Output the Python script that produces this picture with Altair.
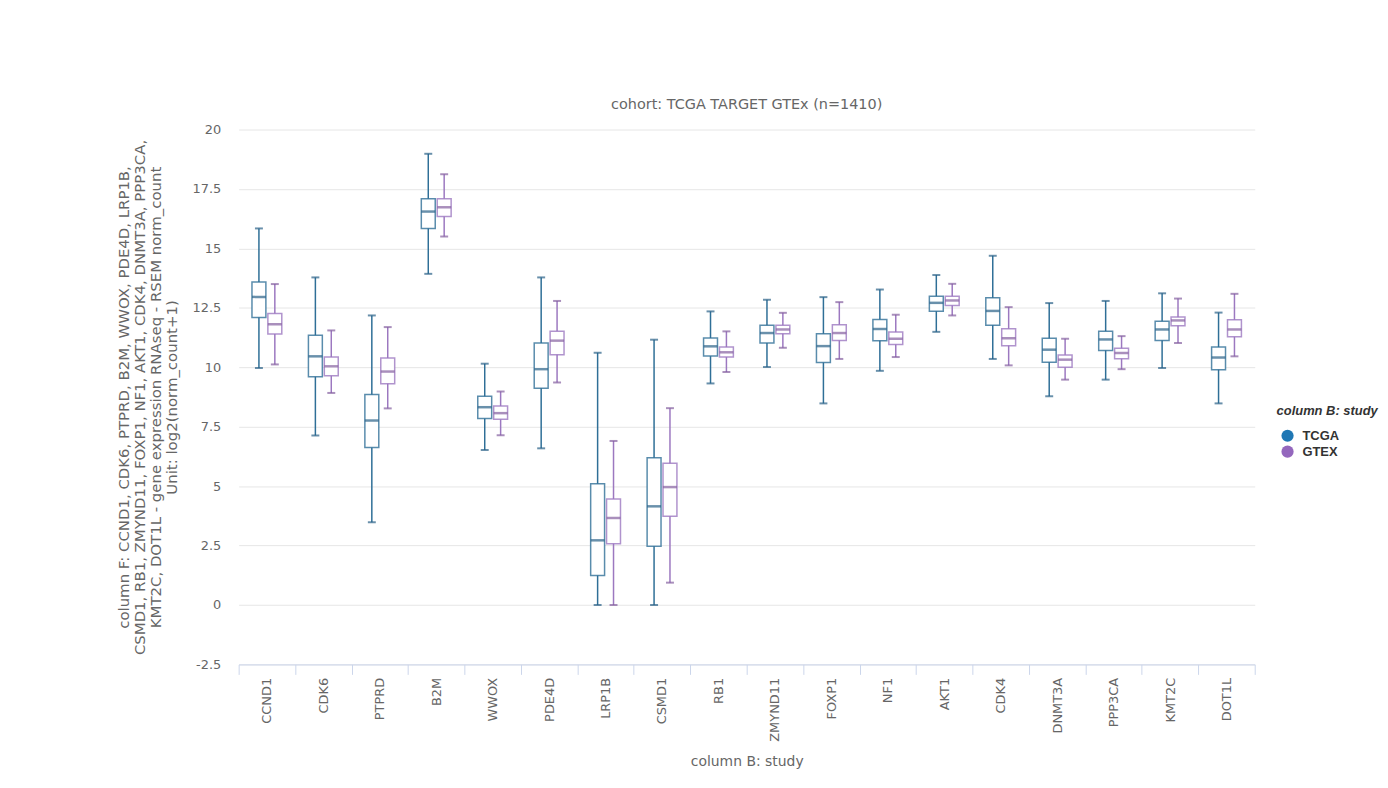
import altair as alt
import pandas as pd

genes = ["CCND1", "CDK6", "PTPRD", "B2M", "WWOX", "PDE4D", "LRP1B", "CSMD1", "RB1",
         "ZMYND11", "FOXP1", "NF1", "AKT1", "CDK4", "DNMT3A", "PPP3CA", "KMT2C", "DOT1L"]
studies = ["TCGA", "GTEX"]

tcga_lower = [9.97, 7.13, 3.48, 13.93, 6.52, 6.59, 0.0, 0.0, 9.32, 10.01, 8.48, 9.85, 11.49, 10.35, 8.78, 9.48, 9.97, 8.48]
tcga_q1 = [12.09, 9.6, 6.62, 15.84, 7.84, 9.12, 1.24, 2.47, 10.47, 11.02, 10.2, 11.12, 12.36, 11.77, 10.21, 10.71, 11.13, 9.9]
tcga_median = [12.96, 10.46, 7.76, 16.55, 8.32, 9.92, 2.72, 4.15, 10.88, 11.44, 10.89, 11.61, 12.71, 12.37, 10.74, 11.17, 11.59, 10.41]
tcga_q3 = [13.59, 11.35, 8.85, 17.09, 8.78, 11.02, 5.1, 6.19, 11.23, 11.77, 11.41, 12.01, 12.99, 12.92, 11.22, 11.52, 11.94, 10.85]
tcga_upper = [15.84, 13.78, 12.18, 18.98, 10.15, 13.78, 10.61, 11.16, 12.35, 12.84, 12.95, 13.27, 13.88, 14.69, 12.7, 12.79, 13.11, 12.3]

gtex_lower = [10.12, 8.92, 8.27, 15.5, 7.14, 9.36, 0.0, 0.94, 9.8, 10.82, 10.35, 10.43, 12.18, 10.08, 9.48, 9.92, 11.02, 10.46]
gtex_q1 = [11.4, 9.64, 9.31, 16.34, 7.81, 10.53, 2.58, 3.73, 10.43, 11.41, 11.13, 10.96, 12.6, 10.91, 10.0, 10.36, 11.75, 11.28]
gtex_median = [11.81, 10.04, 9.82, 16.73, 8.07, 11.12, 3.66, 4.96, 10.63, 11.59, 11.44, 11.2, 12.81, 11.22, 10.32, 10.6, 11.97, 11.59]
gtex_q3 = [12.26, 10.43, 10.39, 17.09, 8.37, 11.52, 4.46, 5.96, 10.85, 11.77, 11.79, 11.48, 12.99, 11.62, 10.52, 10.8, 12.11, 12.0]
gtex_upper = [13.5, 11.55, 11.69, 18.12, 8.98, 12.79, 6.9, 8.28, 11.51, 12.29, 12.74, 12.21, 13.51, 12.53, 11.2, 11.31, 12.89, 13.09]

y_ticks = [-2.5, 0, 2.5, 5, 7.5, 10, 12.5, 15, 17.5, 20]

rows = []
for i, g in enumerate(genes):
    rows.append(dict(gene=g, study="TCGA", series="TCGA", lower=tcga_lower[i], q1=tcga_q1[i],
                     median=tcga_median[i], q3=tcga_q3[i], upper=tcga_upper[i]))
    rows.append(dict(gene=g, study="GTEX", series="GTEX", lower=gtex_lower[i], q1=gtex_q1[i],
                     median=gtex_median[i], q3=gtex_q3[i], upper=gtex_upper[i]))
df = pd.DataFrame(rows)

FONT = "DejaVu Sans"
LFONT = "Liberation Sans"
GRAY = "#666666"

x_axis = alt.Axis(
    title="column B: study", labelAngle=-90, tickBand="extent", tickSize=10,
    tickColor="#ccd6eb", domainColor="#ccd6eb", labelColor=GRAY, labelFontSize=13,
    labelFont=FONT, labelPadding=3, titleColor=GRAY, titleFontSize=14,
    titleFont=FONT, titleFontWeight="normal", titlePadding=13, grid=False,
)
y_title = [
    "column F: CCND1, CDK6, PTPRD, B2M, WWOX, PDE4D, LRP1B,",
    "CSMD1, RB1, ZMYND11, FOXP1, NF1, AKT1, CDK4, DNMT3A, PPP3CA,",
    "KMT2C, DOT1L - gene expression RNAseq - RSEM norm_count",
    "Unit: log2(norm_count+1)",
]
y_axis = alt.Axis(
    values=y_ticks, grid=True, gridColor="#e6e6e6", domain=False, ticks=False,
    tickSize=0, labelColor=GRAY, labelFontSize=13, labelFont=FONT, labelPadding=18,
    labelExpr="'' + datum.value", title=y_title, titleColor=GRAY, titleFontSize=15,
    titleFont=FONT, titleFontWeight="normal", titleLineHeight=16, titleAngle=270,
    titleAlign="center", titleBaseline="top", titleX=-123, titleY=269,
)

x_enc = alt.X("gene:N", sort=genes,
              scale=alt.Scale(domain=genes, paddingInner=0, paddingOuter=0), axis=x_axis)
xo_enc = alt.XOffset("study:N", sort=studies,
                     scale=alt.Scale(domain=studies, paddingInner=0, paddingOuter=0.775))
y_scale = alt.Scale(domain=[-2.5, 20], nice=False, zero=False)

# stroke / fill use a separate field so their (hidden) legends do not merge with the colour legend
stroke_enc = alt.Stroke("series:N", sort=studies,
                        scale=alt.Scale(range=["#2f6f97", "#9c78c0"]), legend=None)
fill_enc = alt.Fill("series:N", sort=studies,
                    scale=alt.Scale(range=["#2a6188", "#84609f"]), legend=None)

base = alt.Chart(df)

whisker = base.mark_rule(strokeWidth=1.5).encode(
    x=x_enc, xOffset=xo_enc,
    y=alt.Y("lower:Q", scale=y_scale, axis=y_axis), y2="upper:Q",
    stroke=stroke_enc,
)
box = base.mark_bar(fill="white", strokeWidth=1.5, size=14, strokeOpacity=0.8).encode(
    x=x_enc, xOffset=xo_enc,
    y=alt.Y("q1:Q", scale=y_scale, axis=y_axis), y2="q3:Q",
    stroke=stroke_enc,
)
median = base.mark_tick(orient="horizontal", thickness=2.5, size=14).encode(
    x=x_enc, xOffset=xo_enc,
    y=alt.Y("median:Q", scale=y_scale, axis=y_axis),
    fill=fill_enc,
)
cap_hi = base.mark_tick(orient="horizontal", thickness=2, size=8).encode(
    x=x_enc, xOffset=xo_enc,
    y=alt.Y("upper:Q", scale=y_scale, axis=y_axis),
    fill=fill_enc,
)
cap_lo = base.mark_tick(orient="horizontal", thickness=2, size=8).encode(
    x=x_enc, xOffset=xo_enc,
    y=alt.Y("lower:Q", scale=y_scale, axis=y_axis),
    fill=fill_enc,
)
legend_layer = base.mark_circle(opacity=1, size=0).encode(
    x=x_enc, xOffset=xo_enc,
    y=alt.Y("median:Q", scale=y_scale, axis=y_axis),
    color=alt.Color("study:N", scale=alt.Scale(domain=studies, range=["#1f77b4", "#9467bd"]),
                    legend=alt.Legend(
                        title="column B: study", orient="none", legendX=1044, legendY=277,
                        symbolType="circle", symbolSize=150, symbolOpacity=1,
                        symbolOffset=4, labelOffset=8,
                        titleFontStyle="italic", titleFontWeight="bold",
                        titleColor="#333333", titleFontSize=13, titleFont=LFONT,
                        labelFont=LFONT, labelFontWeight="bold", labelFontSize=13,
                        labelColor="#333333", rowPadding=2, titlePadding=11, padding=0,
                        titleLimit=600,
                    )),
)

chart = alt.layer(whisker, box, median, cap_hi, cap_lo, legend_layer).properties(
    width=1022, height=538,
    title=alt.TitleParams("cohort: TCGA TARGET GTEx (n=1410)", fontSize=14.5,
                          fontWeight="normal", color=GRAY, font=FONT, offset=11,
                          anchor="middle"),
    autosize=alt.AutoSizeParams(type="none"),
    padding={"left": 232, "top": 120, "right": 126, "bottom": 114},
    background="white",
).configure_view(stroke=None)

chart.save("out.html", embed_options={"renderer": "svg", "actions": False})
